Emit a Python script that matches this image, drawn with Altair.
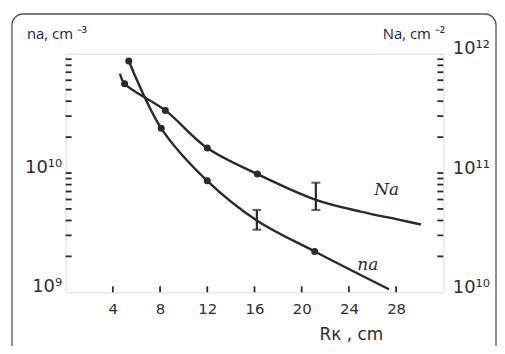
import altair as alt
import pandas as pd

# ---- data ----
rk_na_curve = [5.35, 8.1, 12.0, 16.2, 21.1, 27.4]
na_curve = [8.7e10, 2.37e10, 8.6e9, 4.0e9, 2.2e9, 1.06e9]
rk_Na_curve = [4.6, 5.0, 8.45, 12.0, 16.25, 21.2, 25.0, 28.3, 30.1]
Na_curve = [6.8e11, 5.6e11, 3.35e11, 1.62e11, 9.8e10, 5.96e10, 4.75e10, 4.05e10, 3.7e10]

rk_na_dots = [5.35, 8.1, 12.0, 21.1]
na_dots = [8.7e10, 2.37e10, 8.6e9, 2.2e9]
rk_Na_dots = [5.0, 8.45, 12.0, 16.25]
Na_dots = [5.6e11, 3.35e11, 1.62e11, 9.8e10]

rk_na_err = [16.2]
na_err_lo = [3.35e9]
na_err_hi = [4.9e9]
rk_Na_err = [21.2]
Na_err_lo = [4.9e10]
Na_err_hi = [8.3e10]

x_ticks = [4, 8, 12, 16, 20, 24, 28]
left_ticks = [k * 1e9 for k in range(2, 10)] + [k * 1e10 for k in range(1, 10)]
right_ticks = [k * 1e10 for k in range(2, 10)] + [k * 1e11 for k in range(1, 10)]

W, H = 380, 240
INK = "#2a2a2a"
LBL = "#2e2e2e"

xs = alt.Scale(domain=[0, 32], nice=False)
sL = alt.Scale(type="log", domain=[1e9, 1e11], nice=False)
sR = alt.Scale(type="log", domain=[1e10, 1e12], nice=False)

axX = alt.Axis(values=x_ticks, ticks=False, domain=False, grid=False,
               labelFont="DejaVu Sans", labelFontSize=15, labelColor=LBL,
               labelPadding=9, title="Rк , cm", titleFont="DejaVu Sans",
               titleFontSize=17, titleFontWeight="normal", titleColor=LBL,
               titleX=287, titleY=42, titleAlign="center", titleBaseline="middle")
axL = alt.Axis(values=[1e9, 1e10], ticks=False, domain=False, grid=False,
               labelExpr="datum.value < 5e9 ? '10⁹' : '10¹⁰'",
               labelFont="DejaVu Sans", labelFontSize=18, labelColor=LBL,
               labelPadding=4, labelOffset=-6, title=None)
axR = alt.Axis(values=[1e10, 1e11, 1e12], ticks=False, domain=False, grid=False,
               orient="right",
               labelExpr="datum.value < 5e10 ? '10¹⁰' : (datum.value < 5e11 ? '10¹¹' : '10¹²')",
               labelFont="DejaVu Sans", labelFontSize=18, labelColor=LBL,
               labelPadding=9, labelOffset=-5, title=None)

X = lambda f: alt.X(f, type="quantitative", scale=xs, axis=axX)
YL = lambda f: alt.Y(f, type="quantitative", scale=sL, axis=axL)
YR = lambda f: alt.Y(f, type="quantitative", scale=sR, axis=axR)

# left (n_a) layers
na_line_df = pd.DataFrame({"x": rk_na_curve, "v": na_curve})
na_dot_df = pd.DataFrame({"x": rk_na_dots, "v": na_dots})
na_err_df = pd.DataFrame({"x": rk_na_err, "v": na_err_lo, "hi": na_err_hi})
na_cap_df = pd.DataFrame({"x": rk_na_err * 2, "v": na_err_lo + na_err_hi})
lt_df = pd.DataFrame({"v": left_ticks})
xt_df = pd.DataFrame({"x": x_ticks})
na_lab_df = pd.DataFrame({"x": [25.6], "v": [1.68e9], "t": ["na"]})

na_line = alt.Chart(na_line_df).mark_line(color=INK, strokeWidth=2.4, interpolate="catmull-rom").encode(x=X("x"), y=YL("v"))
na_pts = alt.Chart(na_dot_df).mark_circle(color=INK, size=50, opacity=1).encode(x=X("x"), y=YL("v"))
na_err = alt.Chart(na_err_df).mark_rule(color=INK, strokeWidth=2.2).encode(x=X("x"), y=YL("v"), y2=alt.Y2("hi"))
na_cap = alt.Chart(na_cap_df).mark_tick(color=INK, orient="horizontal", size=9, thickness=2.2).encode(x=X("x"), y=YL("v"))
lticks = alt.Chart(lt_df).mark_rule(color=INK, strokeWidth=1.8).encode(y=YL("v"), x=alt.value(0), x2=alt.value(6))
xticks = alt.Chart(xt_df).mark_rule(color=INK, strokeWidth=1.8).encode(x=X("x"), y=alt.value(H), y2=alt.value(H - 6))
na_lab = alt.Chart(na_lab_df).mark_text(font="DejaVu Serif", fontSize=17, color=INK, fontStyle="italic").encode(x=X("x"), y=YL("v"), text="t")

left = alt.layer(na_line, na_pts, na_err, na_cap, lticks, xticks, na_lab)

# right (N_a) layers
Na_line_df = pd.DataFrame({"x": rk_Na_curve, "v": Na_curve})
Na_dot_df = pd.DataFrame({"x": rk_Na_dots, "v": Na_dots})
Na_err_df = pd.DataFrame({"x": rk_Na_err, "v": Na_err_lo, "hi": Na_err_hi})
Na_cap_df = pd.DataFrame({"x": rk_Na_err * 2, "v": Na_err_lo + Na_err_hi})
rt_df = pd.DataFrame({"v": right_ticks})
Na_lab_df = pd.DataFrame({"x": [27.2], "v": [7.2e10], "t": ["Na"]})

Na_line = alt.Chart(Na_line_df).mark_line(color=INK, strokeWidth=2.4, interpolate="catmull-rom").encode(x=X("x"), y=YR("v"))
Na_pts = alt.Chart(Na_dot_df).mark_circle(color=INK, size=50, opacity=1).encode(x=X("x"), y=YR("v"))
Na_err = alt.Chart(Na_err_df).mark_rule(color=INK, strokeWidth=2.2).encode(x=X("x"), y=YR("v"), y2=alt.Y2("hi"))
Na_cap = alt.Chart(Na_cap_df).mark_tick(color=INK, orient="horizontal", size=9, thickness=2.2).encode(x=X("x"), y=YR("v"))
rticks = alt.Chart(rt_df).mark_rule(color=INK, strokeWidth=1.8).encode(y=YR("v"), x=alt.value(W), x2=alt.value(W - 6))
Na_lab = alt.Chart(Na_lab_df).mark_text(font="DejaVu Serif", fontSize=17, color=INK, fontStyle="italic").encode(x=X("x"), y=YR("v"), text="t")

right = alt.layer(Na_line, Na_pts, Na_err, Na_cap, rticks, Na_lab)

# unit labels and frame
units_df = pd.DataFrame({"t": ["na, cm ⁻³", "Na, cm ⁻²"]})
unit_l = alt.Chart(units_df.iloc[[0]]).mark_text(font="Open Sans", fontSize=15, color="#1b2340", align="left", baseline="alphabetic").encode(
    text="t", x=alt.value(-39), y=alt.value(-15))
unit_r = alt.Chart(units_df.iloc[[1]]).mark_text(font="Open Sans", fontSize=15, color="#1b2340", align="left", baseline="alphabetic").encode(
    text="t", x=alt.value(319), y=alt.value(-15))
frame = alt.Chart(pd.DataFrame({"a": [0]})).mark_rect(fill=None, stroke="#555555", strokeWidth=1.3, cornerRadius=11).encode(
    x=alt.value(-54), x2=alt.value(433), y=alt.value(-40), y2=alt.value(320))

chart = alt.layer(left, right, unit_l, unit_r, frame).resolve_scale(y="independent").properties(
    width=W, height=H,
    autosize=alt.AutoSizeParams(type="none"),
    padding={"left": 58, "top": 45, "right": 54, "bottom": 53},
).configure_view(stroke=INK, strokeWidth=2.6).configure(background="white")

chart.save("out.html", embed_options={"renderer": "svg", "actions": False})
